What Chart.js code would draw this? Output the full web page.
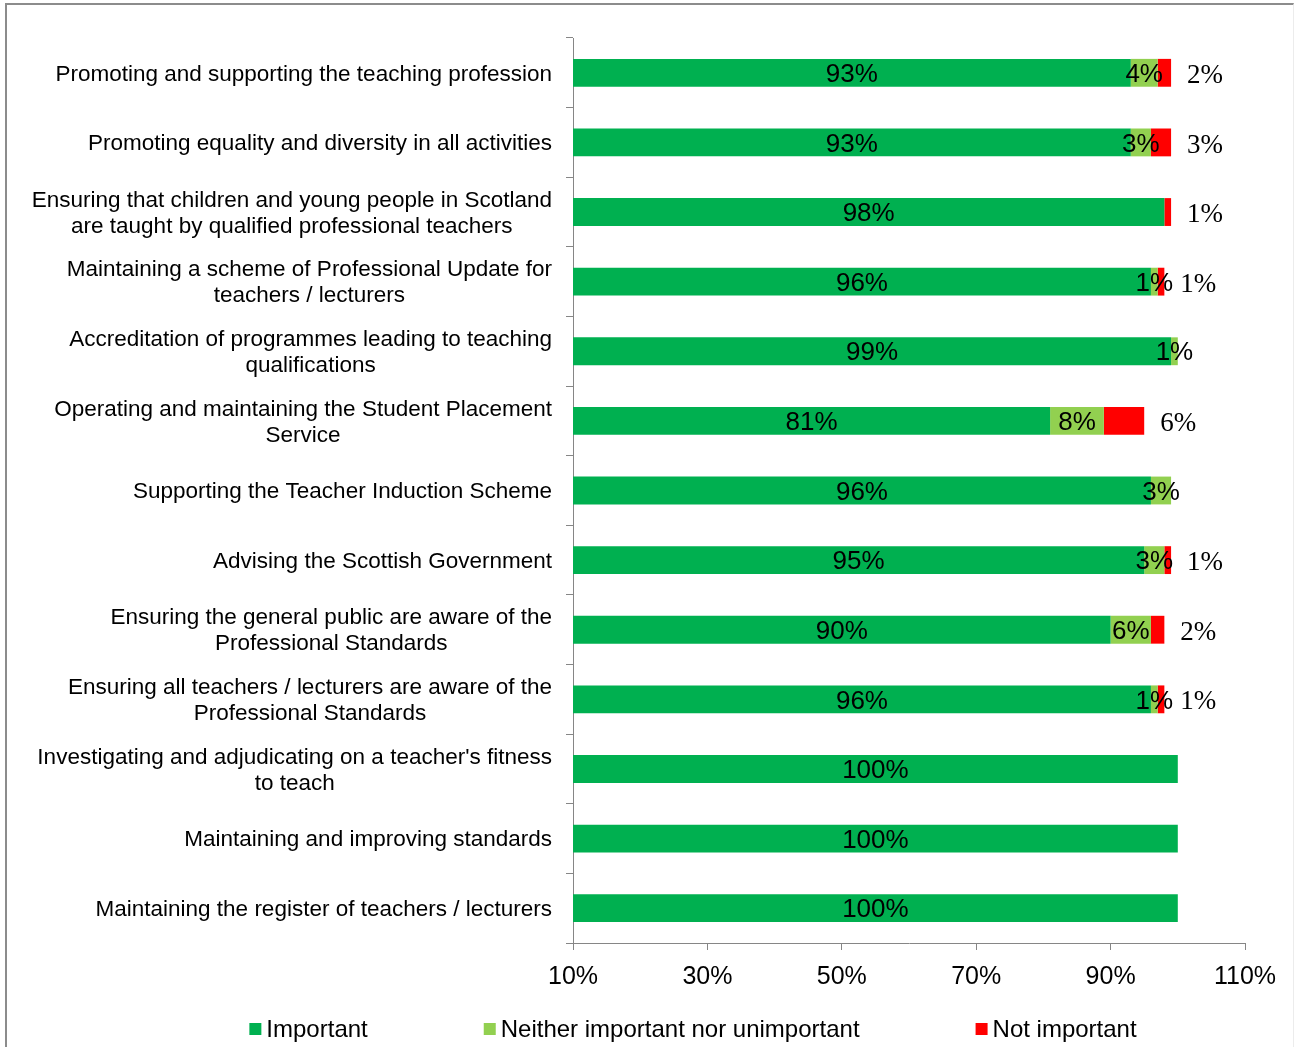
<!DOCTYPE html>
<html>
<head>
<meta charset="utf-8">
<title>Importance of functions</title>
<script src="https://cdn.jsdelivr.net/npm/chart.js@4.4.1/dist/chart.umd.min.js"></script>
<style>
  html, body { margin: 0; padding: 0; background: #fff; }
  #frame {
    position: absolute; left: 5px; top: 3px; width: 1286px; height: 1100px;
    border-left: 2px solid #8c8c8c; border-top: 2px solid #8c8c8c; border-right: 1px solid #ececec;
  }
  #chart { position: absolute; left: 0; top: 0; }
</style>
</head>
<body>
<div id="frame"></div>
<canvas id="chart" width="1294" height="1047"></canvas>
<script>
// one entry per function, split into the lines shown beside the axis
const categories = [
  ['Promoting and supporting the teaching profession'],
  ['Promoting equality and diversity in all activities'],
  ['Ensuring that children and young people in Scotland', 'are taught by qualified professional teachers'],
  ['Maintaining a scheme of Professional Update for', 'teachers / lecturers'],
  ['Accreditation of programmes leading to teaching', 'qualifications'],
  ['Operating and maintaining the Student Placement', 'Service'],
  ['Supporting the Teacher Induction Scheme'],
  ['Advising the Scottish Government'],
  ['Ensuring the general public are aware of the', 'Professional Standards'],
  ['Ensuring all teachers / lecturers are aware of the', 'Professional Standards'],
  ["Investigating and adjudicating on a teacher's fitness", 'to teach'],
  ['Maintaining and improving standards'],
  ['Maintaining the register of teachers / lecturers']
];

const important    = [93, 93, 98, 96, 99, 81, 96, 95, 90, 96, 100, 100, 100];
const neither      = [4, 3, 0, 1, 1, 8, 3, 3, 6, 1, 0, 0, 0];
const notImportant = [2, 3, 1, 1, 0, 6, 0, 1, 2, 1, 0, 0, 0];

const seriesNames = ['Important', 'Neither important nor unimportant', 'Not important'];
const xTicks = [10, 30, 50, 70, 90, 110];

const axisGray = '#868686';
const sans = '"Liberation Sans", Arial, sans-serif';
const serif = '"Liberation Serif", "Times New Roman", serif';

Chart.defaults.font.family = sans;
Chart.defaults.color = '#000';

// percentage labels on the bars; "not important" sits just past the bar end
const valueLabels = {
  id: 'valueLabels',
  afterDatasetsDraw(chart) {
    const ctx = chart.ctx;
    const area = chart.chartArea;
    ctx.save();
    ctx.fillStyle = '#000';
    ctx.textBaseline = 'middle';
    chart.data.datasets.forEach((ds, di) => {
      const meta = chart.getDatasetMeta(di);
      meta.data.forEach((bar, i) => {
        const v = ds.data[i];
        if (!v) return;
        const text = v + '%';
        if (di === 2) {
          ctx.font = '27px ' + serif;
          ctx.textAlign = 'left';
          ctx.fillText(text, bar.x + 16, bar.y + 3);
        } else {
          ctx.font = '26px ' + sans;
          ctx.textAlign = 'center';
          const start = Math.max(bar.base, area.left);
          ctx.fillText(text, (start + bar.x) / 2, bar.y + 2);
        }
      });
    });
    ctx.restore();
  }
};

// category names: block right-aligned to the axis, lines centred inside the block
const categoryLabels = {
  id: 'categoryLabels',
  afterDraw(chart) {
    const yScale = chart.scales.y;
    const ctx = chart.ctx;
    ctx.save();
    ctx.font = '22.5px ' + sans;
    ctx.fillStyle = '#000';
    ctx.textAlign = 'center';
    ctx.textBaseline = 'middle';
    const right = yScale.right - 21;
    categories.forEach((lines, i) => {
      const w = Math.max(...lines.map(l => ctx.measureText(l).width));
      const cx = right - w / 2;
      const y0 = yScale.getPixelForValue(i) + 1.5 - (lines.length - 1) * 13;
      lines.forEach((l, k) => ctx.fillText(l, cx, y0 + k * 26));
    });
    ctx.restore();
  }
};

// legend row along the bottom with wide gaps between entries
const bottomLegend = {
  id: 'bottomLegend',
  afterDraw(chart) {
    const ctx = chart.ctx;
    ctx.save();
    ctx.font = '24px ' + sans;
    ctx.textBaseline = 'middle';
    ctx.textAlign = 'left';
    const box = 12, gapText = 5, gapItem = 116;
    const items = chart.data.datasets.map(ds => ({
      text: ds.label,
      color: ds.backgroundColor,
      w: box + gapText + ctx.measureText(ds.label).width
    }));
    const total = items.reduce((s, it) => s + it.w, 0) + gapItem * (items.length - 1);
    let x = 693 - total / 2;
    const y = 1029;
    items.forEach(it => {
      ctx.fillStyle = it.color;
      ctx.fillRect(x, y - 6, box, box);
      ctx.fillStyle = '#000';
      ctx.fillText(it.text, x + box + gapText, y + 1);
      x += it.w + gapItem;
    });
    ctx.restore();
  }
};

const barStyle = { barPercentage: 0.4, categoryPercentage: 1.0, borderWidth: 0 };

new Chart(document.getElementById('chart'), {
  type: 'bar',
  data: {
    labels: categories.map(l => l.join(' ')),
    datasets: [
      { label: seriesNames[0], data: important, backgroundColor: '#00B050', ...barStyle },
      { label: seriesNames[1], data: neither, backgroundColor: '#92D050', ...barStyle },
      { label: seriesNames[2], data: notImportant, backgroundColor: '#FF0000', ...barStyle }
    ]
  },
  options: {
    indexAxis: 'y',
    responsive: false,
    animation: false,
    layout: { padding: { top: 38, right: 49, left: 0, bottom: 44 } },
    plugins: {
      legend: { display: false },
      tooltip: { enabled: false }
    },
    scales: {
      x: {
        stacked: true,
        min: xTicks[0],
        max: xTicks[xTicks.length - 1],
        afterBuildTicks: s => { s.ticks = xTicks.map(v => ({ value: v })); },
        ticks: { callback: v => v + '%', font: { size: 25 }, padding: 12, maxRotation: 0, color: '#000' },
        grid: { drawOnChartArea: false, tickLength: 7, color: axisGray },
        border: { color: axisGray, width: 1 },
        afterFit: s => { s.height = 60; }
      },
      y: {
        stacked: true,
        ticks: { display: false },
        grid: { drawOnChartArea: false, tickLength: 7, color: axisGray, offset: true },
        border: { color: axisGray, width: 1 },
        afterFit: s => { s.width = 573; }
      }
    }
  },
  plugins: [valueLabels, categoryLabels, bottomLegend]
});
</script>
</body>
</html>
